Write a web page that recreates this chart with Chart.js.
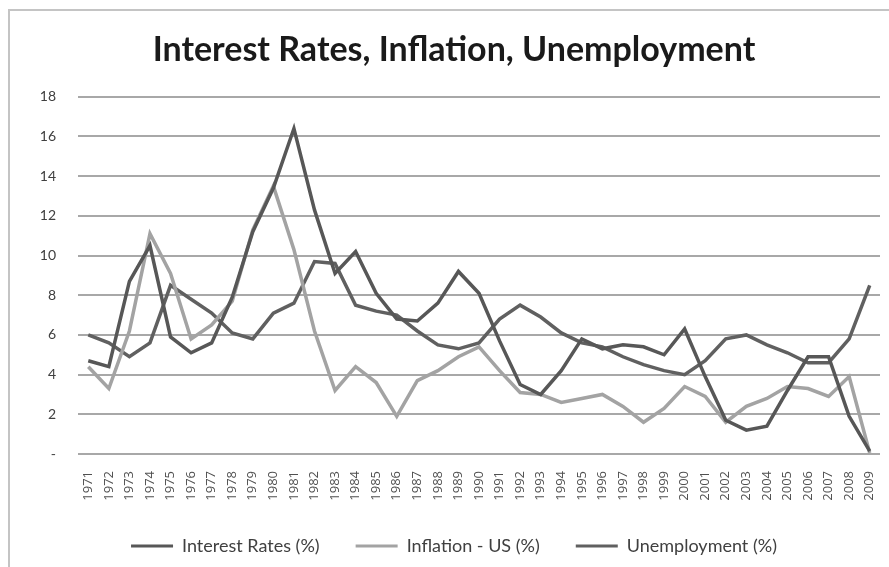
<!DOCTYPE html>
<html>
<head>
<meta charset="utf-8">
<title>Interest Rates, Inflation, Unemployment</title>
<script src="https://cdn.jsdelivr.net/npm/chart.js@4/dist/chart.umd.min.js"></script>
<style>
    html, body { margin: 0; padding: 0; background: #fff; overflow: hidden; }
    #wrap { position: relative; width: 889px; height: 567px; }
    #frame {
        position: absolute; left: 8px; top: 9px; width: 1000px; height: 700px;
        border-left: 2px solid #c4c4c4; border-top: 2px solid #c4c4c4;
    }
    canvas { position: absolute; left: 0; top: 0; }
</style>
</head>
<body>
<div id="wrap">
    <div id="frame"></div>
    <canvas id="rates-chart" width="889" height="567"></canvas>
</div>
<script>
// Years on the x axis
const years = [
    '1971', '1972', '1973', '1974', '1975', '1976', '1977', '1978', '1979', '1980',
    '1981', '1982', '1983', '1984', '1985', '1986', '1987', '1988', '1989', '1990',
    '1991', '1992', '1993', '1994', '1995', '1996', '1997', '1998', '1999', '2000',
    '2001', '2002', '2003', '2004', '2005', '2006', '2007', '2008', '2009'
];

// Values (%)
const interestRates = [
    4.7, 4.4, 8.7, 10.5, 5.9, 5.1, 5.6, 7.9, 11.2, 13.4,
    16.4, 12.3, 9.1, 10.2, 8.1, 6.8, 6.7, 7.6, 9.2, 8.1,
    5.7, 3.5, 3.0, 4.2, 5.8, 5.3, 5.5, 5.4, 5.0, 6.3,
    3.9, 1.7, 1.2, 1.4, 3.2, 4.9, 4.9, 1.9, 0.15
];
const inflation = [
    4.4, 3.3, 6.2, 11.1, 9.1, 5.8, 6.5, 7.7, 11.3, 13.5,
    10.3, 6.2, 3.2, 4.4, 3.6, 1.9, 3.7, 4.2, 4.9, 5.4,
    4.2, 3.1, 3.0, 2.6, 2.8, 3.0, 2.4, 1.6, 2.3, 3.4,
    2.9, 1.6, 2.4, 2.8, 3.4, 3.3, 2.9, 3.9, 0.05
];
const unemployment = [
    6.0, 5.6, 4.9, 5.6, 8.5, 7.8, 7.1, 6.1, 5.8, 7.1,
    7.6, 9.7, 9.6, 7.5, 7.2, 7.0, 6.2, 5.5, 5.3, 5.6,
    6.8, 7.5, 6.9, 6.1, 5.6, 5.4, 4.9, 4.5, 4.2, 4.0,
    4.7, 5.8, 6.0, 5.5, 5.1, 4.6, 4.6, 5.8, 8.5
];

// Y axis tick values
const yTicks = [0, 2, 4, 6, 8, 10, 12, 14, 16, 18];

const seriesNames = ['Interest Rates (%)', 'Inflation - US (%)', 'Unemployment (%)'];
const seriesColors = ['#575757', '#a3a3a3', '#606060'];

function makeDataset(label, values, color) {
    return {
        label: label,
        data: values,
        borderColor: color,
        backgroundColor: color,
        borderWidth: 3.5,
        tension: 0,
        pointRadius: 0,
        fill: false
    };
}

const ctx = document.getElementById('rates-chart');

const ratesChart = new Chart(ctx, {
    type: 'line',
    data: {
        labels: years,
        datasets: [
            makeDataset(seriesNames[0], interestRates, seriesColors[0]),
            makeDataset(seriesNames[1], inflation, seriesColors[1]),
            makeDataset(seriesNames[2], unemployment, seriesColors[2])
        ]
    },
    options: {
        responsive: false,
        animation: false,
        layout: {
            padding: { left: 28, right: 9, top: 18, bottom: 2 }
        },
        plugins: {
            title: {
                display: true,
                text: 'Interest Rates, Inflation, Unemployment',
                color: '#1a1a1a',
                font: { family: 'Lato', size: 34, weight: 'bold' },
                padding: { top: 12, bottom: 26 }
            },
            legend: {
                position: 'bottom',
                labels: {
                    color: '#404040',
                    font: { family: 'Lato', size: 18 },
                    boxWidth: 42,
                    boxHeight: 3,
                    padding: 36,
                    // plain line swatches, no outline
                    generateLabels: function(chart) {
                        return chart.data.datasets.map(function(ds, i) {
                            return {
                                text: ds.label,
                                fillStyle: ds.borderColor,
                                strokeStyle: ds.borderColor,
                                lineWidth: 0,
                                fontColor: '#404040',
                                datasetIndex: i
                            };
                        });
                    }
                }
            },
            tooltip: { enabled: false }
        },
        scales: {
            x: {
                offset: true,
                grid: { display: false, drawTicks: false },
                border: { display: false },
                ticks: {
                    color: '#505050',
                    font: { family: 'Open Sans', size: 13 },
                    minRotation: 90,
                    maxRotation: 90,
                    autoSkip: false,
                    padding: 17
                },
                afterFit: function(scale) {
                    scale.height = 47;
                    // let the plot run right up to the layout padding
                    scale.paddingLeft = 0;
                    scale.paddingRight = 0;
                }
            },
            y: {
                min: 0,
                max: 18,
                afterBuildTicks: function(scale) {
                    scale.ticks = yTicks.map(function(v) { return { value: v }; });
                },
                grid: {
                    color: '#a8a8a8',
                    lineWidth: 2,
                    drawTicks: false
                },
                border: { display: false },
                ticks: {
                    color: '#404040',
                    font: { family: 'Lato', size: 14 },
                    padding: 22,
                    callback: function(value) {
                        return value === 0 ? '-' : value;
                    }
                },
                afterFit: function(scale) {
                    scale.width = 50;
                }
            }
        }
    }
});
</script>
</body>
</html>
